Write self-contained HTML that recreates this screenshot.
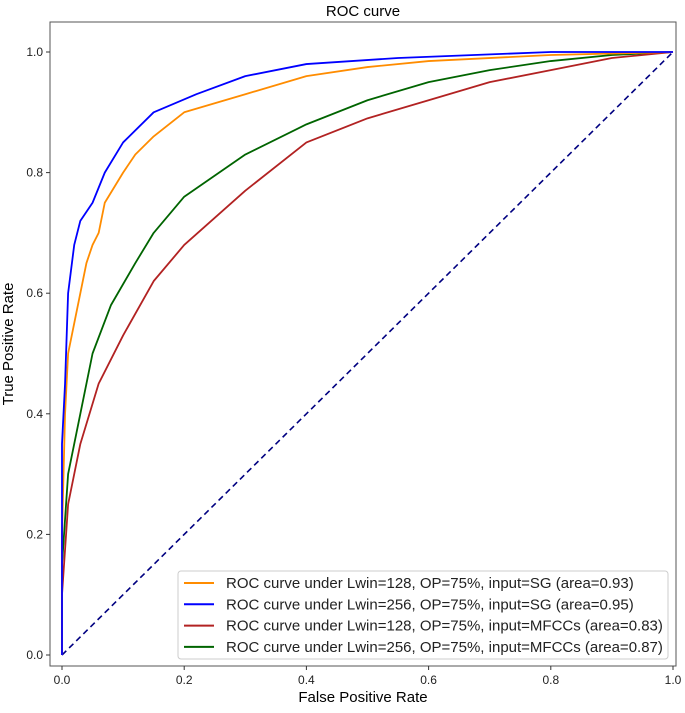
<!DOCTYPE html>
<html><head><meta charset="utf-8"><style>
body{margin:0;background:#fff}
svg{font-family:"Liberation Sans","DejaVu Sans",sans-serif}
</style></head><body>
<svg id="chart" width="685" height="708">
<text x="363" y="16" font-size="15" text-anchor="middle">ROC curve</text>
<g id="plot"></g>
<text x="363" y="702" font-size="15" text-anchor="middle">False Positive Rate</text>
<text transform="translate(13,344) rotate(-90)" font-size="15" text-anchor="middle">True Positive Rate</text>
</svg>
<script>
const ticks=[0,0.2,0.4,0.6,0.8,1.0];
const tickLabels=["0.0","0.2","0.4","0.6","0.8","1.0"];
const seriesNames=["ROC curve under Lwin=128, OP=75%, input=SG (area=0.93)","ROC curve under Lwin=256, OP=75%, input=SG (area=0.95)","ROC curve under Lwin=128, OP=75%, input=MFCCs (area=0.83)","ROC curve under Lwin=256, OP=75%, input=MFCCs (area=0.87)"];
const seriesColors=["#ff8c00","#0000ff","#b22222","#006400"];
const orangeFpr=[0,0,0.005,0.01,0.02,0.03,0.04,0.05,0.06,0.07,0.1,0.12,0.15,0.2,0.3,0.4,0.5,0.6,0.8,1];
const orangeTpr=[0,0.2,0.4,0.5,0.55,0.6,0.65,0.68,0.7,0.75,0.8,0.83,0.86,0.9,0.93,0.96,0.975,0.985,0.995,1];
const blueFpr=[0,0,0.005,0.01,0.02,0.03,0.05,0.07,0.1,0.15,0.22,0.3,0.4,0.55,0.8,1];
const blueTpr=[0,0.35,0.45,0.6,0.68,0.72,0.75,0.8,0.85,0.9,0.93,0.96,0.98,0.99,1,1];
const redFpr=[0,0,0.01,0.03,0.06,0.1,0.15,0.2,0.3,0.4,0.5,0.6,0.7,0.8,0.9,1];
const redTpr=[0,0.1,0.25,0.35,0.45,0.53,0.62,0.68,0.77,0.85,0.89,0.92,0.95,0.97,0.99,1];
const greenFpr=[0,0,0.01,0.03,0.05,0.08,0.12,0.15,0.2,0.3,0.4,0.5,0.6,0.7,0.8,0.9,1];
const greenTpr=[0,0.15,0.3,0.4,0.5,0.58,0.65,0.7,0.76,0.83,0.88,0.92,0.95,0.97,0.985,0.995,1];
const NS="http://www.w3.org/2000/svg";
const X=v=>62+v*611, Y=v=>655-v*603;
const g=document.getElementById('plot');
function mk(t,a){const e=document.createElementNS(NS,t);for(const k in a)e.setAttribute(k,a[k]);g.appendChild(e);return e;}
const frame=mk('rect',{x:50,y:22,width:626,height:644,fill:'none',stroke:'#555','stroke-width':1});


ticks.forEach((t,i)=>{
 const a=mk('line',{x1:X(t),x2:X(t),y1:666,y2:670,stroke:'#333'});
 
 
 const b=mk('text',{x:X(t),y:684,'font-size':12,'text-anchor':'middle',fill:'#222'});b.textContent=tickLabels[i];
 
 
 const c=mk('line',{x1:46,x2:50,y1:Y(t),y2:Y(t),stroke:'#333'});
 
 
 const d=mk('text',{x:43,y:Y(t)+4,'font-size':12,'text-anchor':'end',fill:'#222'});d.textContent=tickLabels[i];
 
 
});
const diag=mk('line',{x1:X(0),y1:Y(0),x2:X(1),y2:Y(1),stroke:'#000080','stroke-width':1.6,'stroke-dasharray':'6,4'});


const sets=[[orangeFpr,orangeTpr],[blueFpr,blueTpr],[redFpr,redTpr],[greenFpr,greenTpr]];
const names=['orange-sg-128','blue-sg-256','red-mfcc-128','green-mfcc-256'];
[3,2,0,1].forEach(i=>{
 const [fx,ty]=sets[i];
 const p=mk('polyline',{points:fx.map((f,j)=>X(f)+','+Y(ty[j])).join(' '),fill:'none',stroke:seriesColors[i],'stroke-width':1.8,'stroke-linejoin':'round'});
 
 
});
const lg=mk('rect',{x:178,y:571,width:490,height:88,rx:3,fill:'#fff','fill-opacity':0.85,stroke:'#ccc'});


seriesNames.forEach((n,i)=>{
 const y=583+i*21.3;
 const l=mk('line',{x1:184,x2:214,y1:y,y2:y,stroke:seriesColors[i],'stroke-width':2});
 
 
 const t=mk('text',{x:226,y:y+5,'font-size':15,fill:'#222'});t.textContent=n;
 
 
});
</script>
</body></html>
